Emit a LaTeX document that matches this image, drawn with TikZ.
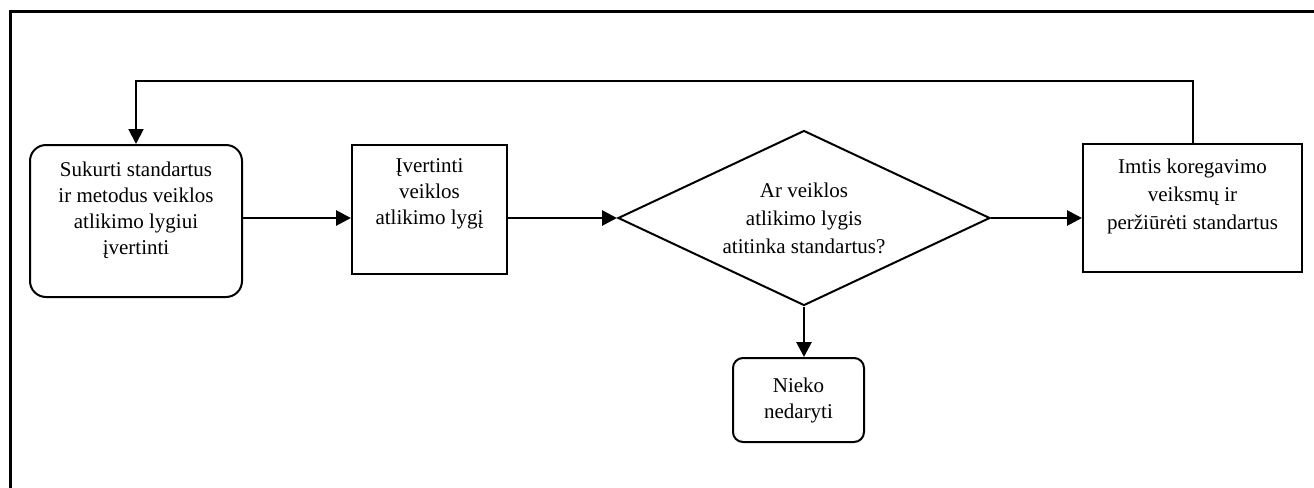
\documentclass[tikz,border=0pt]{standalone}
\usepackage{fontspec}
\setmainfont{Liberation Serif}
\usetikzlibrary{shapes.geometric,arrows.meta}

\begin{document}
\begin{tikzpicture}[x=0.5pt, y=-0.5pt,
    every node/.style={font=\fontsize{10.5}{13}\selectfont, align=center},
    wide/.style={font=\fontsize{10.5}{14}\selectfont},
    stepbox/.style={draw, line width=1pt, inner sep=0pt},
    roundbox/.style={stepbox, rounded corners=8pt},
    arr/.style={line width=1.4pt, -{Triangle[length=7.5pt, width=7.5pt]}}]
    \useasboundingbox (0,0) rectangle (1314,488);

    % ===== frame (only top and left edge visible) =====
    \draw[line width=1.5pt] (10,488) -- (10,11) -- (1314,11);

    % ===== steps =====
    \node[roundbox, minimum width=106pt, minimum height=76pt] (sukurti) at (136,221)
        {Sukurti standartus\\ ir metodus veiklos\\ atlikimo lygiui\\ įvertinti\\ \mbox{}};
    \node[stepbox, minimum width=77.5pt, minimum height=64.5pt] (ivertinti) at (429.5,209.5)
        {Įvertinti\\ veiklos\\ atlikimo lygį\\[5pt] \mbox{}};
    \node[stepbox, wide, diamond, aspect=2.1, minimum width=186pt, minimum height=87.5pt] (dec) at (804,218)
        {Ar veiklos\\ atlikimo lygis\\ atitinka standartus?};
    \node[stepbox, wide, minimum width=109.5pt, minimum height=64pt] (imtis) at (1192.5,208)
        {Imtis koregavimo\\ veiksmų ir\\ peržiūrėti standartus\\ \mbox{}};
    \node[roundbox, rounded corners=5pt, minimum width=65.5pt, minimum height=42pt] (nieko) at (798.5,400)
        {Nieko\\ nedaryti};

    % ===== connectors =====
    \draw[arr] (sukurti.east |- dec.center) -- (ivertinti.west |- dec.center);
    \draw[arr] (ivertinti.east |- dec.center) -- (dec.west);
    \draw[arr] (dec.east) -- (imtis.west |- dec.center);
    \draw[arr] (dec.south) -- (dec.south |- nieko.north);

    % feedback loop back to the first step
    \coordinate (back) at (0,81);
    \draw[arr, line width=1pt] (imtis.north) -- (imtis.north |- back) -| (sukurti.north);
\end{tikzpicture}
\end{document}
